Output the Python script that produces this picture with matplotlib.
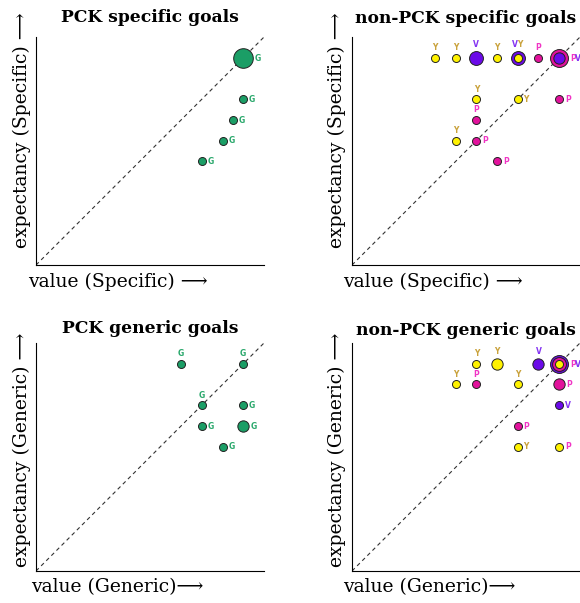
"""Expectancy vs value bubble charts: PCK / non-PCK, specific / generic goals."""

import matplotlib

matplotlib.use("Agg")
import matplotlib.pyplot as plt

SERIF = ["DejaVu Serif", "DejaVu Sans"]

FILL = {"G": "#1b9e66", "Y": "#fff200", "V": "#6b0ae8", "P": "#e2129c"}
TEXT = {"G": "#2aa86c", "Y": "#c9a23c", "V": "#8434f2", "P": "#f034c4"}

# --- PCK specific goals ---
PCK_SPEC_X = [10, 10, 9.5, 9, 8]
PCK_SPEC_Y = [10, 8, 7, 6, 5]
PCK_SPEC_CAT = ["G", "G", "G", "G", "G"]
PCK_SPEC_N = [6, 1, 1, 1, 1]
PCK_SPEC_LBL = ["G", "G", "G", "G", "G"]
PCK_SPEC_POS = ["r", "r", "r", "r", "r"]

# --- non-PCK specific goals ---
NON_SPEC_X = [4, 5, 6, 7, 8, 8, 9, 10, 10, 6, 8, 10, 6, 5, 6, 7]
NON_SPEC_Y = [10, 10, 10, 10, 10, 10, 10, 10, 10, 8, 8, 8, 7, 6, 6, 5]
NON_SPEC_CAT = ["Y", "Y", "V", "Y", "V", "Y", "P", "P", "V", "Y", "Y", "P", "P", "Y", "P", "P"]
NON_SPEC_N = [1, 1, 3, 1, 3, 1, 1, 5, 2, 1, 1, 1, 1, 1, 1, 1]
NON_SPEC_LBL = ["Y", "Y", "V", "Y", "V", "Y", "P", "P", "V", "Y", "Y", "P", "P", "Y", "P", "P"]
NON_SPEC_POS = ["a", "a", "a", "a", "a", "a", "a", "r", "r", "a", "r", "r", "a", "a", "r", "r"]

# --- PCK generic goals ---
PCK_GEN_X = [7, 10, 8, 10, 8, 10, 9]
PCK_GEN_Y = [10, 10, 8, 8, 7, 7, 6]
PCK_GEN_CAT = ["G", "G", "G", "G", "G", "G", "G"]
PCK_GEN_N = [1, 1, 1, 1, 1, 2, 1]
PCK_GEN_LBL = ["G", "G", "G", "G", "G", "G", "G"]
PCK_GEN_POS = ["a", "a", "a", "r", "r", "r", "r"]

# --- non-PCK generic goals ---
NON_GEN_X = [6, 7, 9, 10, 10, 10, 5, 6, 8, 10, 10, 8, 8, 10]
NON_GEN_Y = [10, 10, 10, 10, 10, 10, 9, 9, 9, 9, 8, 7, 6, 6]
NON_GEN_CAT = ["Y", "Y", "V", "V", "P", "Y", "Y", "P", "Y", "P", "V", "P", "Y", "Y"]
NON_GEN_N = [1, 2, 2, 5, 3, 1, 1, 1, 1, 2, 1, 1, 1, 1]
NON_GEN_LBL = ["Y", "Y", "V", "V", "P", "Y", "Y", "P", "Y", "P", "V", "P", "Y", "P"]
NON_GEN_POS = ["a", "a", "a", "r", "r", "r", "a", "a", "a", "r", "r", "r", "r", "r"]

PANELS = [
    dict(title="PCK specific goals", xlabel="value (Specific) \u27f6",
         ylabel="expectancy (Specific) \u27f6",
         rect=[0.0621, 0.5605, 0.393, 0.378],
         x=PCK_SPEC_X, y=PCK_SPEC_Y, cat=PCK_SPEC_CAT, n=PCK_SPEC_N,
         lbl=PCK_SPEC_LBL, pos=PCK_SPEC_POS,
         t_y=1.088, xl=(-0.035, -0.075), yl=(-0.062, 0.075)),
    dict(title="non-PCK specific goals", xlabel="value (Specific) \u27f6",
         ylabel="expectancy (Specific) \u27f6",
         rect=[0.6069, 0.5605, 0.393, 0.378],
         x=NON_SPEC_X, y=NON_SPEC_Y, cat=NON_SPEC_CAT, n=NON_SPEC_N,
         lbl=NON_SPEC_LBL, pos=NON_SPEC_POS,
         t_y=1.083, xl=(-0.04, -0.075), yl=(-0.066, 0.075)),
    dict(title="PCK generic goals", xlabel="value (Generic)\u27f6",
         ylabel="expectancy (Generic) \u27f6",
         rect=[0.0621, 0.0531, 0.393, 0.378],
         x=PCK_GEN_X, y=PCK_GEN_Y, cat=PCK_GEN_CAT, n=PCK_GEN_N,
         lbl=PCK_GEN_LBL, pos=PCK_GEN_POS,
         t_y=1.066, xl=(-0.022, -0.07), yl=(-0.062, 0.018)),
    dict(title="non-PCK generic goals", xlabel="value (Generic)\u27f6",
         ylabel="expectancy (Generic) \u27f6",
         rect=[0.6069, 0.0531, 0.393, 0.378],
         x=NON_GEN_X, y=NON_GEN_Y, cat=NON_GEN_CAT, n=NON_GEN_N,
         lbl=NON_GEN_LBL, pos=NON_GEN_POS,
         t_y=1.057, xl=(-0.04, -0.07), yl=(-0.066, 0.018)),
]

BASE_D = 8 * 0.72  # small bubble diameter in points
LETTER_W = 3.6     # label letter advance in points


def draw_panel(fig, p):
    ax = fig.add_axes(p["rect"])
    ax.set_xlim(0, 11)
    ax.set_ylim(0, 11)
    for s in ("top", "right"):
        ax.spines[s].set_visible(False)
    for s in ("left", "bottom"):
        ax.spines[s].set_linewidth(0.8)
    ax.set_xticks([])
    ax.set_yticks([])
    ax.patch.set_alpha(0)

    ax.plot([0, 11], [0, 11], color="#333333", linewidth=0.8,
            dashes=(3.5, 3), zorder=1)

    # bubbles, largest first so nested ones stay visible
    order = sorted(range(len(p["x"])), key=lambda i: -p["n"][i])
    for rank, i in enumerate(order):
        ax.scatter(p["x"][i], p["y"][i], s=BASE_D ** 2 * p["n"][i],
                   color=FILL[p["cat"][i]], edgecolors="#222222",
                   linewidths=0.7, zorder=3 + rank, clip_on=False)

    # labels, one per position, letters in alphabetical order
    groups = {}
    for i in range(len(p["x"])):
        groups.setdefault((p["x"][i], p["y"][i]), []).append(i)
    for (gx, gy), idx in groups.items():
        letters = sorted(p["lbl"][i] for i in idx)
        rad = max(BASE_D * p["n"][i] ** 0.5 for i in idx) / 2
        where = p["pos"][idx[0]]
        for k, ch in enumerate(letters):
            if where == "r":
                off = (rad + 1.3 + k * LETTER_W, -0.2)
                ha, va = "left", "center"
            else:
                off = (-(len(letters) - 1) * LETTER_W / 2 + k * LETTER_W, rad + 1.2)
                ha, va = "center", "bottom"
            ax.annotate(ch, (gx, gy), xytext=off, textcoords="offset points",
                        ha=ha, va=va, fontsize=5.5, fontweight="bold",
                        color=TEXT[ch], family="DejaVu Sans",
                        annotation_clip=False, zorder=20)

    ax.text(0.5, p["t_y"], p["title"], transform=ax.transAxes, ha="center",
            va="center", fontsize=12.3, fontweight="bold", family=SERIF)
    ax.text(p["xl"][0], p["xl"][1], p["xlabel"], transform=ax.transAxes,
            ha="left", va="center", fontsize=13.5, family=SERIF)
    ax.text(p["yl"][0], p["yl"][1], p["ylabel"], transform=ax.transAxes,
            ha="center", va="bottom", rotation=90, fontsize=13.5, family=SERIF)
    return ax


fig = plt.figure(figsize=(5.8, 6.03), dpi=100)
for panel in PANELS:
    draw_panel(fig, panel)
fig.savefig("out.png", dpi=100)
